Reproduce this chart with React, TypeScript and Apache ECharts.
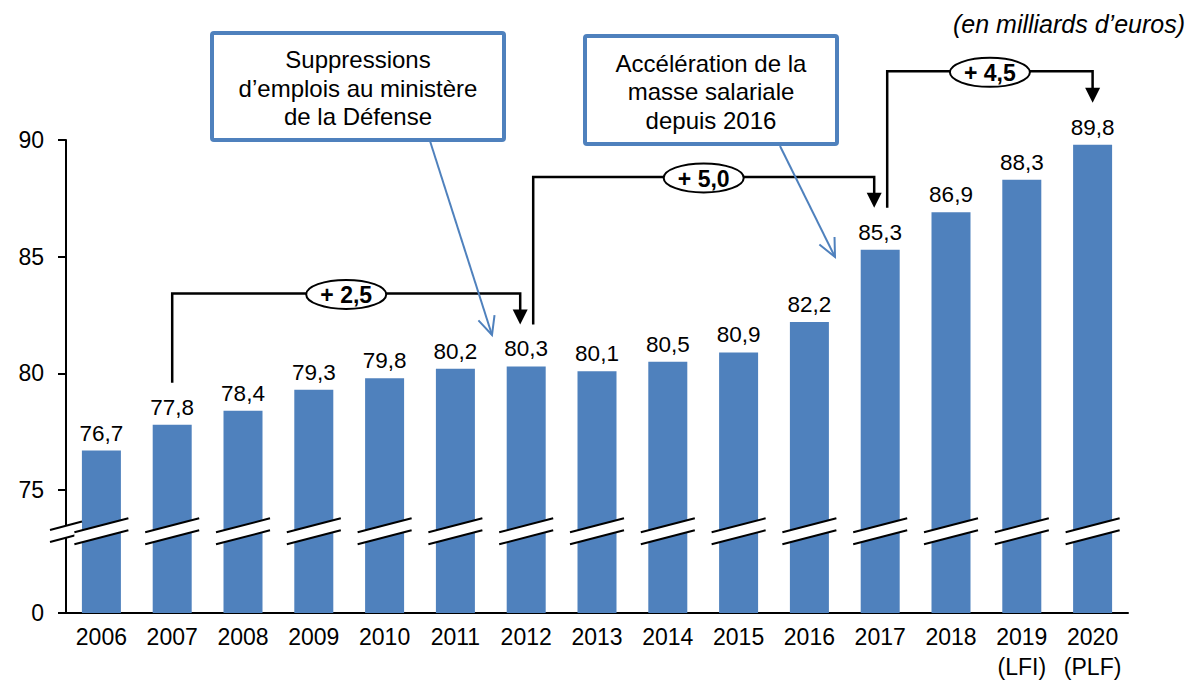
import React, { useEffect, useRef } from "react";
import * as echarts from "echarts";

const categories = ["2006", "2007", "2008", "2009", "2010", "2011", "2012", "2013", "2014", "2015", "2016", "2017", "2018", "2019\n(LFI)", "2020\n(PLF)"];
const values = [76.7, 77.8, 78.4, 79.3, 79.8, 80.2, 80.3, 80.1, 80.5, 80.9, 82.2, 85.3, 86.9, 88.3, 89.8];
const yTicks = [0, 75, 80, 85, 90];

// brackets (increase annotations)
const bracketFrom = [1, 6, 11];
const bracketTo = [6, 11, 14];
const bracketLevel = [83.43, 88.42, 92.94];
const bracketLabels = ["+ 2,5", "+ 5,0", "+ 4,5"];

const unitText = "(en milliards d\u2019euros)";
const callout1 = "Suppressions\nd\u2019emplois au minist\u00e8re\nde la D\u00e9fense";
const callout2 = "Acc\u00e9l\u00e9ration de la\nmasse salariale\ndepuis 2016";

const BREAK_AT = 75;
const GAP = 5.26; // display units used for 0..75
const BREAK_REAL = 75 * (3.5 / GAP);

const toDisplay = (v: number) => (v >= BREAK_AT ? v - BREAK_AT + GAP : (v * GAP) / BREAK_AT);
const tickDisplay = yTicks.map(toDisplay);
const fmt = (v: number) => v.toFixed(1).replace(".", ",");

const FONT = '"Liberation Sans", Arial, Helvetica, sans-serif';
const BLUE = "#4F81BD";

function arrowHead(x1: number, y1: number, x2: number, y2: number, len = 20, ang = 25) {
  const a = Math.atan2(y1 - y2, x1 - x2);
  const r = (ang * Math.PI) / 180;
  return [
    [x2 + len * Math.cos(a + r), y2 + len * Math.sin(a + r)],
    [x2, y2],
    [x2 + len * Math.cos(a - r), y2 + len * Math.sin(a - r)],
  ];
}

function calloutGraphic(x: number, y: number, w: number, h: number, text: string, ax1: number, ay1: number, ax2: number, ay2: number) {
  return [
    {
      type: "line",
      shape: { x1: ax1, y1: ay1, x2: ax2, y2: ay2 },
      style: { stroke: BLUE, lineWidth: 2 },
      z: 10,
    },
    {
      type: "polyline",
      shape: { points: arrowHead(ax1, ay1, ax2, ay2) },
      style: { stroke: BLUE, lineWidth: 2, fill: "none" },
      z: 10,
    },
    {
      type: "rect",
      shape: { x, y, width: w, height: h, r: 2 },
      style: { fill: "#fff", stroke: BLUE, lineWidth: 4 },
      z: 11,
    },
    {
      type: "text",
      x: x + w / 2,
      y: y + h / 2 + 1.5,
      style: {
        text,
        fill: "#000",
        fontSize: 24,
        fontFamily: FONT,
        lineHeight: 28.5,
        align: "center",
        verticalAlign: "middle",
      },
      z: 12,
    },
  ];
}

export default function App() {
  const ref = useRef<HTMLDivElement>(null);

  useEffect(() => {
    document.body.style.margin = "0";
    if (!ref.current) return;
    const chart = echarts.init(ref.current, null, { renderer: "svg" });

    const option: any = {
      animation: false,
      grid: { left: 66, top: 140, width: 1062, height: 475, containLabel: false },
      xAxis: {
        type: "category",
        data: categories,
        axisLine: { lineStyle: { color: "#000", width: 2 } },
        axisTick: { show: false },
        axisLabel: { color: "#000", fontSize: 23, fontFamily: FONT, lineHeight: 30, margin: 9, interval: 0 },
      },
      yAxis: {
        type: "value",
        min: 0,
        max: toDisplay(90),
        splitLine: { show: false },
        axisLine: { show: true, lineStyle: { color: "#000", width: 2 } },
        axisTick: { show: true, length: 8, lineStyle: { color: "#000", width: 2 }, customValues: tickDisplay },
        axisLabel: {
          customValues: tickDisplay,
          color: "#000",
          fontSize: 23,
          fontFamily: FONT,
          margin: 22,
          formatter: (val: number) => {
            const i = tickDisplay.findIndex((d) => Math.abs(d - val) < 1e-6);
            return i >= 0 ? String(yTicks[i]) : "";
          },
        },
      },
      series: [
        {
          type: "bar",
          data: values.map(toDisplay),
          barWidth: 39,
          itemStyle: { color: BLUE },
          label: {
            show: true,
            position: "top",
            distance: 6,
            color: "#000",
            fontSize: 22.5,
            fontFamily: FONT,
            formatter: (p: any) => fmt(values[p.dataIndex]),
          },
          z: 2,
        },
        {
          type: "custom",
          clip: false,
          z: 5,
          data: categories.map((_, i) => [i, toDisplay(BREAK_REAL)]),
          renderItem: (params: any, api: any) => {
            const i = api.value(0);
            const [cx, cy] = api.coord([i, api.value(1)]);
            const mk = (x: number, y: number, hw: number, hd: number) => [
              {
                type: "polygon",
                shape: { points: [[x - hw, y + hd - 6], [x + hw, y - hd - 6], [x + hw, y - hd + 6], [x - hw, y + hd + 6]] },
                style: { fill: "#fff" },
              },
              { type: "line", shape: { x1: x - hw, y1: y + hd - 6, x2: x + hw, y2: y - hd - 6 }, style: { stroke: "#000", lineWidth: 2 } },
              { type: "line", shape: { x1: x - hw, y1: y + hd + 6, x2: x + hw, y2: y - hd + 6 }, style: { stroke: "#000", lineWidth: 2 } },
            ];
            let children: any[] = mk(cx, cy, 27, 7);
            if (i === 0) children = mk(params.coordSys.x, cy + 0.5, 16, 4.3).concat(children);
            return { type: "group", children };
          },
        },
        {
          type: "custom",
          clip: false,
          z: 6,
          data: bracketFrom.map((_, k) => [k, 0]),
          renderItem: (params: any, api: any) => {
            const k = api.value(0);
            const f = bracketFrom[k];
            const t = bracketTo[k];
            const sShift = bracketTo.includes(f) ? 7 : 0;
            const eShift = bracketFrom.includes(t) ? -6 : 0;
            const sx = api.coord([f, 0])[0] + sShift;
            const ex = api.coord([t, 0])[0] + eShift;
            const sy = api.coord([f, toDisplay(values[f])])[1] - 42;
            const ey = api.coord([t, toDisplay(values[t])])[1] - 42;
            const ly = api.coord([f, toDisplay(bracketLevel[k])])[1];
            const mx = (sx + ex) / 2;
            return {
              type: "group",
              children: [
                {
                  type: "polyline",
                  shape: { points: [[sx, sy], [sx, ly], [ex, ly], [ex, ey - 13]] },
                  style: { stroke: "#000", lineWidth: 2.5, fill: "none" },
                },
                {
                  type: "polygon",
                  shape: { points: [[ex - 7.5, ey - 15], [ex + 7.5, ey - 15], [ex, ey]] },
                  style: { fill: "#000" },
                },
                {
                  type: "ellipse",
                  shape: { cx: mx, cy: ly + 1, rx: 40, ry: 14.5 },
                  style: { fill: "#fff", stroke: "#000", lineWidth: 2 },
                },
                {
                  type: "text",
                  x: mx,
                  y: ly + 2,
                  style: {
                    text: bracketLabels[k],
                    fill: "#000",
                    fontSize: 23,
                    fontWeight: "bold",
                    fontFamily: FONT,
                    align: "center",
                    verticalAlign: "middle",
                  },
                },
              ],
            };
          },
        },
      ],
      graphic: [
        {
          type: "text",
          right: 6,
          top: 11,
          style: {
            text: unitText,
            fill: "#000",
            fontSize: 25,
            fontStyle: "italic",
            fontFamily: FONT,
          },
        },
        ...calloutGraphic(212, 33, 292, 107, callout1, 430, 141, 492, 335),
        ...calloutGraphic(585, 36, 252, 108, callout2, 780, 146, 835, 257),
      ],
    };

    chart.setOption(option);
    return () => chart.dispose();
  }, []);

  return <div ref={ref} style={{ width: 1191, height: 682, position: "absolute", left: 0, top: 0 }} />;
}
